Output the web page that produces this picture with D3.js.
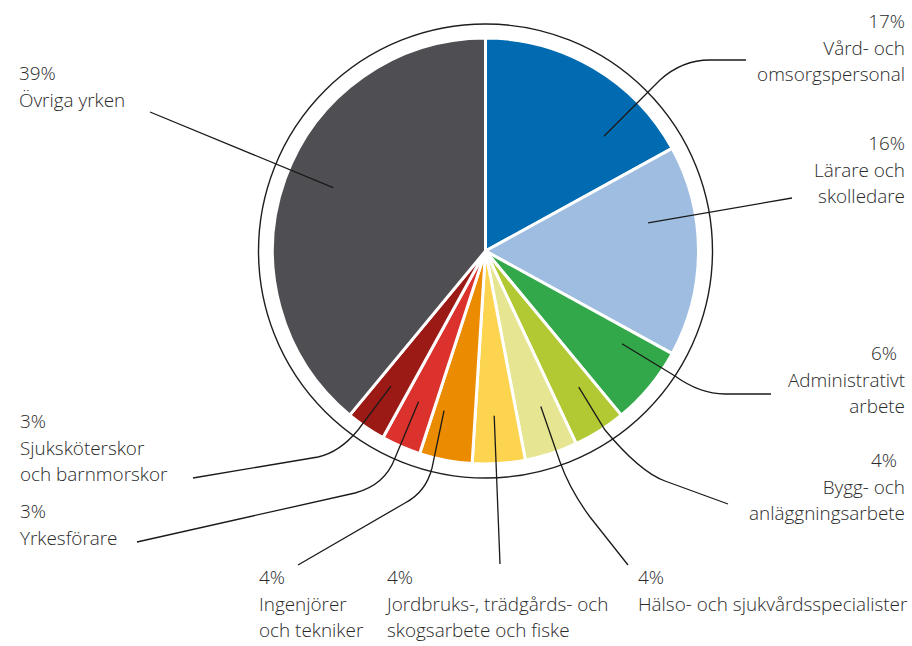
<!DOCTYPE html>
<html>
<head>
<meta charset="utf-8">
<script src="https://cdn.jsdelivr.net/npm/d3@7"></script>
<style>
  html, body { margin: 0; padding: 0; background: #fff; }
  svg { display: block; }
  .lbl { font-family: "Open Sans", "Noto Sans", sans-serif; font-weight: 300; font-size: 18.9px; fill: #2a2a2a; }
</style>
</head>
<body>
<svg id="chart" width="912" height="646"></svg>
<script>
// Occupational groups, clockwise from 12 o'clock
const categories = [
  ["Vård- och", "omsorgspersonal"],
  ["Lärare och", "skolledare"],
  ["Administrativt", "arbete"],
  ["Bygg- och", "anläggningsarbete"],
  ["Hälso- och sjukvårdsspecialister"],
  ["Jordbruks-, trädgårds- och", "skogsarbete och fiske"],
  ["Ingenjörer", "och tekniker"],
  ["Yrkesförare"],
  ["Sjuksköterskor", "och barnmorskor"],
  ["Övriga yrken"]
];
// Share of total, percent
const shares = [17, 16, 6, 4, 4, 4, 4, 3, 3, 39];
const palette = ["#006bb0", "#9ebde0", "#33a84b", "#b2c934", "#e6e592",
                 "#fdd44f", "#eb8c00", "#dc322d", "#9c1a16", "#4f4e53"];

// Label placement: text anchor, leader start (fraction of the slice's sweep)
// and the leader's route to the text.
const layout = [
  { x: 905, y: 28, anchor: "end", pctX: 905, t: 0.75, route: { a: [660, 80], c: [682, 60], b: [710, 60], e: [746, 60] } },
  { x: 905, y: 150, anchor: "end", pctX: 905, t: 0.33, route: { e: [792, 198] } },
  { x: 905, y: 360, anchor: "end", pctX: 897, t: 0.25, route: { a: [675, 376], c: [700, 394], b: [725, 394], e: [771, 394] } },
  { x: 905, y: 467, anchor: "end", pctX: 897, t: 0.36, route: { a: [605, 430], c: [640, 472], b: [665, 481], e: [728, 504] } },
  { x: 638, y: 584, anchor: "start", pctX: 638, t: 0.39, route: { a: [560, 462], c: [570, 490], b: [590, 517], e: [628, 565] } },
  { x: 387, y: 584, anchor: "start", pctX: 387, t: 0.54, route: { e: [500, 564] } },
  { x: 259, y: 584, anchor: "start", pctX: 259, t: 0.76, route: { a: [432, 468], c: [426, 492], b: [405, 503], e: [298, 565] } },
  { x: 20, y: 518, anchor: "start", pctX: 20, t: 0.55, route: { a: [395, 458], c: [385, 485], b: [355, 493], e: [137, 542] } },
  { x: 20, y: 428, anchor: "start", pctX: 20, t: 0.57, route: { a: [358, 430], c: [340, 452], b: [318, 457], e: [193, 478] } },
  { x: 19, y: 80, anchor: "start", pctX: 19, t: 0.52, route: { e: [150, 112] } }
];

const svg = d3.select("#chart");
const cx = 485.5, cy = 251;
const rPie = 213, rRing = 227, rLead = 165;
const lineGap = 26.5;

const pie = d3.pie().sort(null).value(d => d).startAngle(0).endAngle(2 * Math.PI);
const arcs = pie(shares);
const arc = d3.arc().innerRadius(0).outerRadius(rPie);

const g = svg.append("g").attr("transform", `translate(${cx},${cy})`);

g.selectAll("path.slice")
  .data(arcs)
  .join("path")
  .attr("class", "slice")
  .attr("d", arc)
  .attr("fill", (d, i) => palette[i])
  .attr("stroke", "#fff")
  .attr("stroke-width", 3)
  .attr("stroke-linejoin", "round");

// thin outer ring
g.append("circle")
  .attr("r", rRing)
  .attr("fill", "none")
  .attr("stroke", "#1e1e1e")
  .attr("stroke-width", 1.4);

// leader lines
function leaderPath(d, i) {
  const L = layout[i];
  const ang = d.startAngle + L.t * (d.endAngle - d.startAngle);
  const sx = cx + rLead * Math.sin(ang);
  const sy = cy - rLead * Math.cos(ang);
  const p = d3.path();
  p.moveTo(sx, sy);
  const r = L.route;
  if (r.a) {
    p.lineTo(r.a[0], r.a[1]);
    p.quadraticCurveTo(r.c[0], r.c[1], r.b[0], r.b[1]);
  }
  p.lineTo(r.e[0], r.e[1]);
  return p.toString();
}

svg.append("g")
  .selectAll("path")
  .data(arcs)
  .join("path")
  .attr("d", leaderPath)
  .attr("fill", "none")
  .attr("stroke", "#1a1a1a")
  .attr("stroke-width", 1.3);

// labels: percentage on the first line, group name below
const labels = svg.append("g");
arcs.forEach((d, i) => {
  const L = layout[i];
  const t = labels.append("text")
    .attr("class", "lbl")
    .attr("text-anchor", L.anchor);
  t.append("tspan")
    .attr("x", L.pctX)
    .attr("y", L.y)
    .text(`${shares[i]}%`);
  categories[i].forEach((line, k) => {
    t.append("tspan")
      .attr("x", L.x)
      .attr("y", L.y + lineGap * (k + 1))
      .text(line);
  });
});
</script>
</body>
</html>
